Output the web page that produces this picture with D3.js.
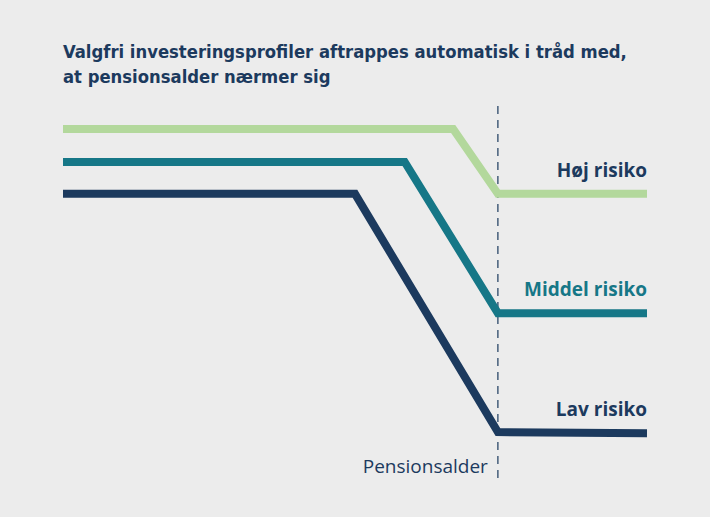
<!DOCTYPE html>
<html>
<head>
<meta charset="utf-8">
<script src="https://cdn.jsdelivr.net/npm/d3@7"></script>
<style>
  body { margin: 0; background: #ececec; }
  svg { display: block; }
  text { font-family: "Open Sans", sans-serif; }
  .title { font-family: "DejaVu Sans Condensed", "Open Sans", sans-serif; }
</style>
</head>
<body>
<div id="chart"></div>
<script>
// years relative to pension age, and equity share (abstract level)
var profiles = ["Høj risiko", "Middel risiko", "Lav risiko"];
var colors = ["#b3d89c", "#167787", "#1c3a5e"];
var labelColors = ["#1c3a5e", "#167787", "#1c3a5e"];
var years_high = [-35, -3.6, 0, 12];
var share_high = [92.4, 92.4, 75.3, 75.3];
var years_mid = [-35, -7.5, 0, 12];
var share_mid = [83.7, 83.7, 43.9, 43.9];
var years_low = [-35, -11.5, 0, 12];
var share_low = [75.3, 75.3, 12.6, 12.3];
var pensionYear = 0;
var title = ["Valgfri investeringsprofiler aftrappes automatisk i tråd med,",
             "at pensionsalder nærmer sig"];

var series = [
  {name: profiles[0], x: years_high, y: share_high},
  {name: profiles[1], x: years_mid, y: share_mid},
  {name: profiles[2], x: years_low, y: share_low}
];

var width = 710, height = 517;

var x = d3.scaleLinear().domain([-35, 12]).range([63, 647]);
var y = d3.scaleLinear().domain([0, 100]).range([480, 100]);

var svg = d3.select("#chart")
    .append("svg")
    .attr("width", width)
    .attr("height", height);

svg.append("rect")
    .attr("width", width)
    .attr("height", height)
    .attr("fill", "#ececec");

svg.selectAll(".title")
    .data(title)
    .enter().append("text")
    .attr("class", "title")
    .attr("x", 63)
    .attr("y", function(d, i) { return 58 + i * 25; })
    .attr("fill", "#1c3a5e")
    .attr("font-size", "18.3px")
    .attr("font-weight", "bold")
    .text(function(d) { return d; });

// pension age marker
svg.append("line")
    .attr("x1", x(pensionYear))
    .attr("x2", x(pensionYear))
    .attr("y1", 106)
    .attr("y2", 478)
    .attr("stroke", "#1c3a5e")
    .attr("stroke-width", 1.2)
    .attr("stroke-dasharray", "8,6");

svg.append("text")
    .attr("x", x(pensionYear) - 10)
    .attr("y", 473)
    .attr("text-anchor", "end")
    .attr("fill", "#1c3a5e")
    .attr("font-size", "19px")
    .text("Pensionsalder");

var line = d3.line()
    .x(function(d) { return x(d[0]); })
    .y(function(d) { return y(d[1]); });

svg.selectAll(".profile")
    .data(series)
    .enter().append("path")
    .attr("class", "profile")
    .attr("fill", "none")
    .attr("stroke", function(d, i) { return colors[i]; })
    .attr("stroke-width", 8)
    .attr("d", function(d) { return line(d3.zip(d.x, d.y)); });

svg.selectAll(".label")
    .data(series)
    .enter().append("text")
    .attr("class", "label")
    .attr("x", function(d) { return x(d.x[d.x.length - 1]); })
    .attr("y", function(d) { return y(d.y[d.y.length - 1]) - 17; })
    .attr("text-anchor", "end")
    .attr("fill", function(d, i) { return labelColors[i]; })
    .attr("font-size", "19px")
    .attr("font-weight", "bold")
    .text(function(d) { return d.name; });
</script>
</body>
</html>
